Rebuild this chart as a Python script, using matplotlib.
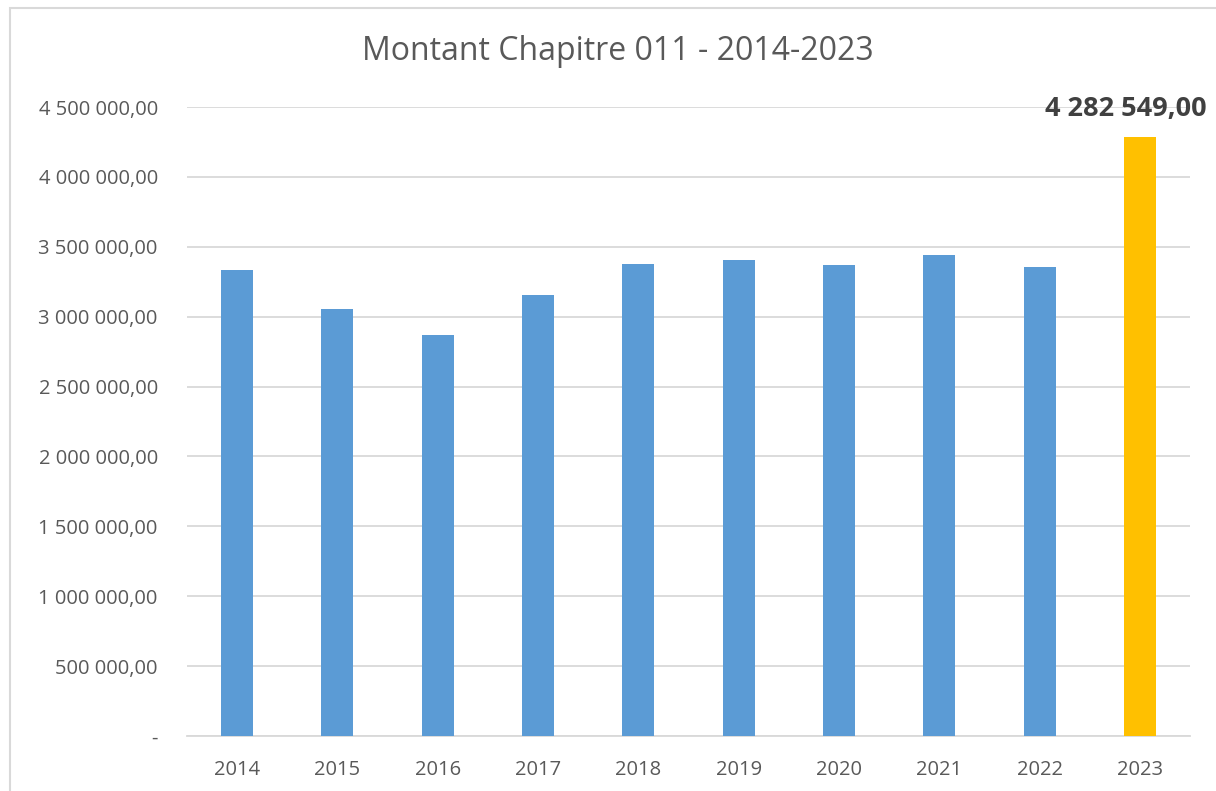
import numpy as np
from matplotlib import pyplot as plt
from matplotlib.patches import Rectangle

plt.rcParams['font.family'] = ['Open Sans', 'DejaVu Sans']

years = ['2014', '2015', '2016', '2017', '2018', '2019', '2020', '2021', '2022', '2023']
amounts = [3331000, 3052000, 2866000, 3152000, 3376000, 3403000, 3371000, 3441000, 3355000, 4282549]
yticks = [0, 500000, 1000000, 1500000, 2000000, 2500000, 3000000, 3500000, 4000000, 4500000]

BLUE = '#5b9bd5'
GOLD = '#ffc000'
GRID = '#d9d9d9'
TXT = '#595959'


def fmt_fr(v):
    if v == 0:
        return '-'
    s = '{:,.2f}'.format(v)
    return s.replace(',', ' ').replace('.', ',')


fig = plt.figure(figsize=(12.16, 7.91), dpi=100)
ax = fig.add_axes([187/1216, 55/791, 1003/1216, 629/791])

# -- outer chart frame --
fig.patches.append(Rectangle((10/1216, -0.01), 1.2, (791-8)/791 + 0.01, transform=fig.transFigure,
                             fill=False, edgecolor=GRID, lw=1.5))

x = np.arange(len(years))
colors = [BLUE]*(len(years)-1) + [GOLD]
ax.bar(x, amounts, width=0.32, color=colors, zorder=3)

ax.set_xlim(-0.5, len(years)-0.5)
ax.set_ylim(0, 4500000)
ax.set_xticks(x)
ax.set_xticklabels(years)
ax.set_yticks(yticks)
ax.set_yticklabels([fmt_fr(v) for v in yticks])
ax.tick_params(length=0, labelsize=14.5, colors=TXT)
ax.tick_params(axis='y', pad=21)
ax.tick_params(axis='x', pad=17)
ax.grid(axis='y', color=GRID, lw=1.3, zorder=0)
for s in ['top', 'right', 'left']:
    ax.spines[s].set_visible(False)
ax.spines['bottom'].set_color(GRID)
ax.spines['bottom'].set_linewidth(1.3)

# -- label on last bar --
ax.annotate(fmt_fr(amounts[-1]), (x[-1], amounts[-1]), xytext=(-10, 11), textcoords='offset points',
            ha='center', va='bottom', fontsize=19.5, fontweight='bold', color='#404040')

fig.text(618/1216, 1 - 52/791, 'Montant Chapitre 011 - 2014-2023', ha='center', va='center',
         fontsize=23, color=TXT)

fig.savefig('out.png', dpi=100)
